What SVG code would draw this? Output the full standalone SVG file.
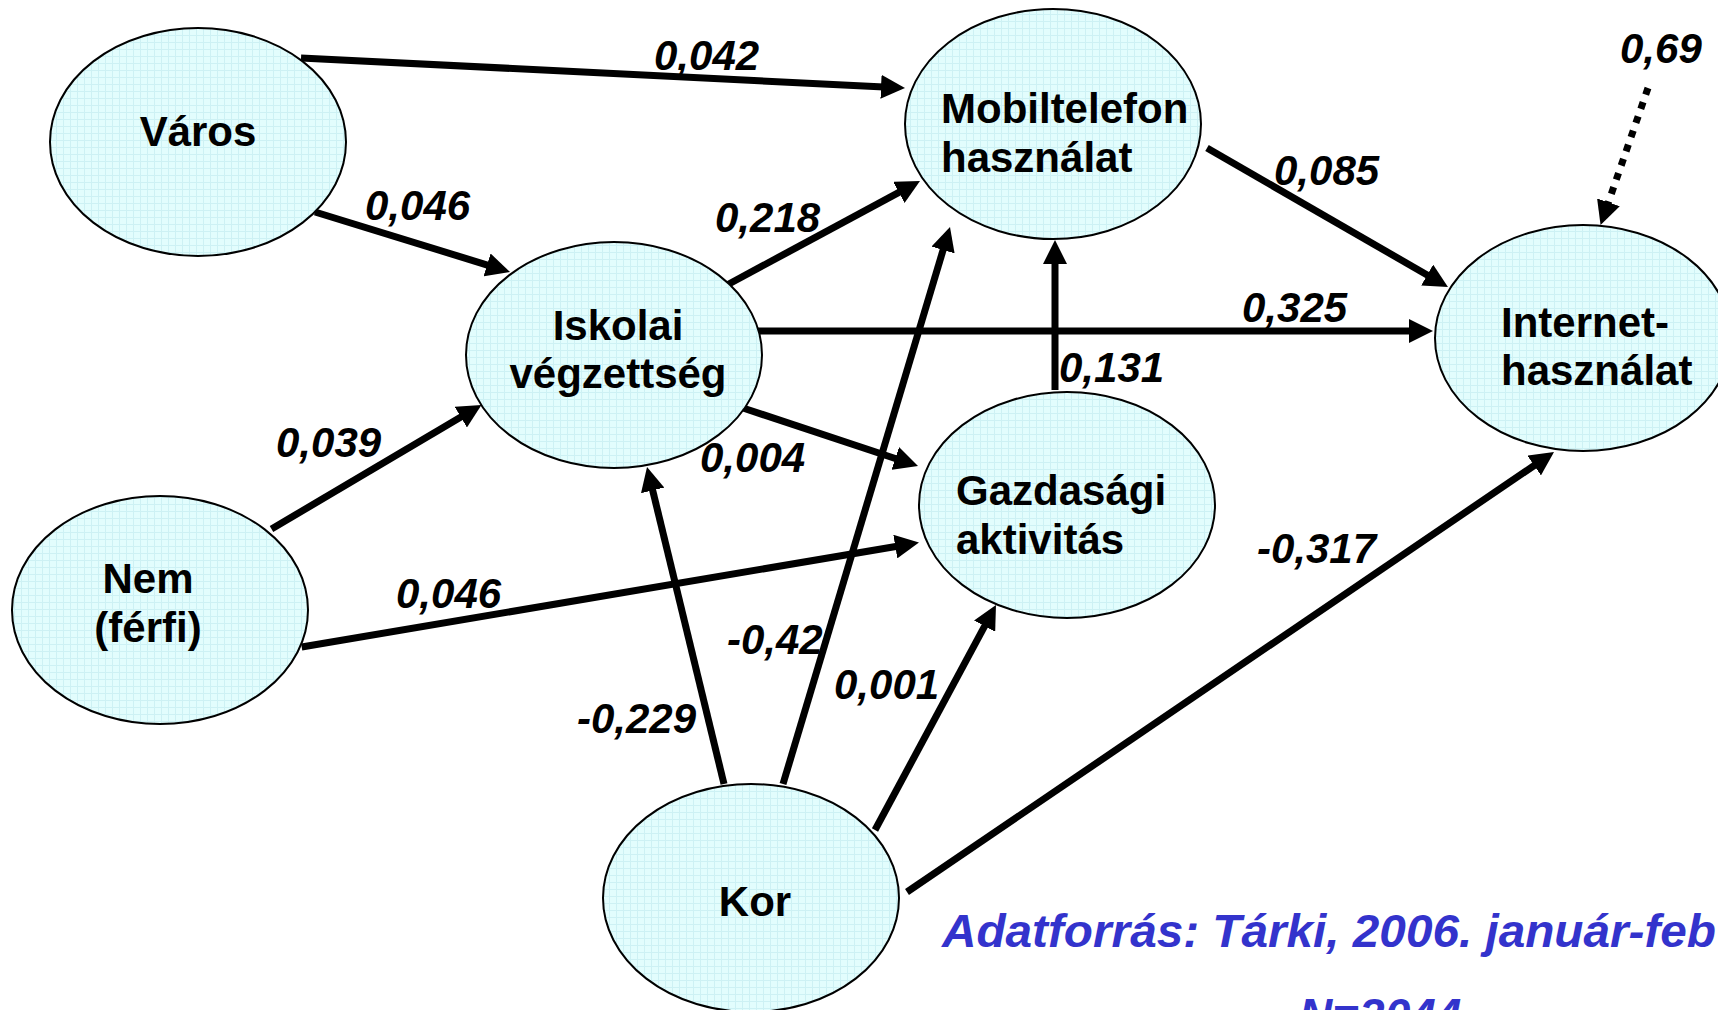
<svg xmlns="http://www.w3.org/2000/svg" width="1718" height="1010" viewBox="0 0 1718 1010">
  <style>
    .node { fill: url(#grid); stroke: #000; stroke-width: 2; }
    .nlabel { font-family: "Liberation Sans", Arial, sans-serif; font-weight: bold; font-size: 42px; fill: #000; }
    .elabel { font-family: "Liberation Sans", Arial, sans-serif; font-weight: bold; font-style: italic; font-size: 42px; fill: #000; }
    .edge { stroke: #000; stroke-width: 7; fill: none; marker-end: url(#arrow); }
    .dotted { stroke-dasharray: 7 8; }
    .note { font-family: "Liberation Sans", Arial, sans-serif; font-weight: bold; font-style: italic; font-size: 46px; fill: #3333cc; }
  </style>
  <defs>
    <pattern id="grid" width="7" height="7" patternUnits="userSpaceOnUse">
      <rect width="7" height="7" fill="#e2fdfd"/>
      <path d="M0,0.5 H7 M0.5,0 V7" stroke="#cdf1f4" stroke-width="1"/>
    </pattern>
    <marker id="arrow" viewBox="0 0 24 24" markerWidth="24" markerHeight="24" refX="8" refY="12" orient="auto" markerUnits="userSpaceOnUse">
      <path d="M0,0 L24,12 L0,24 z" fill="#000"/>
    </marker>
  </defs>
  <rect width="1718" height="1010" fill="#fff"/>

  <g id="connectors">
    <line class="edge" x1="301" y1="58" x2="889" y2="87.2"/>
    <line class="edge" x1="315" y1="212" x2="494.7" y2="267.3"/>
    <line class="edge" x1="727" y1="285" x2="905.9" y2="188.6"/>
    <line class="edge" x1="757" y1="331" x2="1417" y2="331"/>
    <line class="edge" x1="740" y1="407" x2="902.8" y2="461"/>
    <line class="edge" x1="271.5" y1="529" x2="467.7" y2="413.1"/>
    <line class="edge" x1="301.7" y1="647" x2="903.2" y2="545.2"/>
    <line class="edge" x1="724" y1="784" x2="650.8" y2="482.6"/>
    <line class="edge" x1="783" y1="784" x2="945.4" y2="242.3"/>
    <line class="edge" x1="875" y1="830" x2="988.4" y2="619.1"/>
    <line class="edge" x1="907" y1="892" x2="1540.8" y2="461"/>
    <line class="edge" x1="1207" y1="148" x2="1434.1" y2="279"/>
    <line class="edge" x1="1055" y1="390" x2="1055" y2="256"/>
    <line class="edge dotted" x1="1648" y1="88" x2="1605.8" y2="209.9"/>
  </g>

  <g id="node-varos">
    <ellipse class="node" cx="198" cy="142" rx="148" ry="114"/>
    <text class="nlabel" x="198" y="146" text-anchor="middle">Város</text>
  </g>
  <g id="node-iskolai">
    <ellipse class="node" cx="614" cy="355" rx="148" ry="113"/>
    <text class="nlabel" x="618" y="340" text-anchor="middle">Iskolai</text>
    <text class="nlabel" x="618" y="388" text-anchor="middle">végzettség</text>
  </g>
  <g id="node-mobil">
    <ellipse class="node" cx="1053" cy="124" rx="148" ry="115"/>
    <text class="nlabel" x="941" y="123">Mobiltelefon</text>
    <text class="nlabel" x="941" y="172">használat</text>
  </g>
  <g id="node-internet">
    <ellipse class="node" cx="1583" cy="338" rx="148" ry="113"/>
    <text class="nlabel" x="1501" y="337">Internet-</text>
    <text class="nlabel" x="1501" y="385">használat</text>
  </g>
  <g id="node-gazdasagi">
    <ellipse class="node" cx="1067" cy="505" rx="148" ry="113"/>
    <text class="nlabel" x="956" y="505">Gazdasági</text>
    <text class="nlabel" x="956" y="554">aktivitás</text>
  </g>
  <g id="node-nem">
    <ellipse class="node" cx="160" cy="610" rx="148" ry="114"/>
    <text class="nlabel" x="148" y="593" text-anchor="middle">Nem</text>
    <text class="nlabel" x="148" y="642" text-anchor="middle">(férfi)</text>
  </g>
  <g id="node-kor">
    <ellipse class="node" cx="751" cy="898" rx="148" ry="114"/>
    <text class="nlabel" x="755" y="916" text-anchor="middle">Kor</text>
  </g>

  <g id="edge-labels">
    <text class="elabel" x="654" y="70">0,042</text>
    <text class="elabel" x="365" y="220">0,046</text>
    <text class="elabel" x="715" y="232">0,218</text>
    <text class="elabel" x="276" y="457">0,039</text>
    <text class="elabel" x="700" y="472">0,004</text>
    <text class="elabel" x="396" y="608">0,046</text>
    <text class="elabel" x="577" y="733">-0,229</text>
    <text class="elabel" x="727" y="654">-0,42</text>
    <text class="elabel" x="834" y="699">0,001</text>
    <text class="elabel" x="1274" y="185">0,085</text>
    <text class="elabel" x="1242" y="322">0,325</text>
    <text class="elabel" x="1059" y="382">0,131</text>
    <text class="elabel" x="1257" y="563">-0,317</text>
    <text class="elabel" x="1620" y="63">0,69</text>
  </g>

  <g id="source-note">
    <text class="note" x="942" y="947" textLength="774" lengthAdjust="spacingAndGlyphs">Adatforrás: Tárki, 2006. január-feb</text>
    <text class="note" x="1299" y="1031">N=2044</text>
  </g>
</svg>
